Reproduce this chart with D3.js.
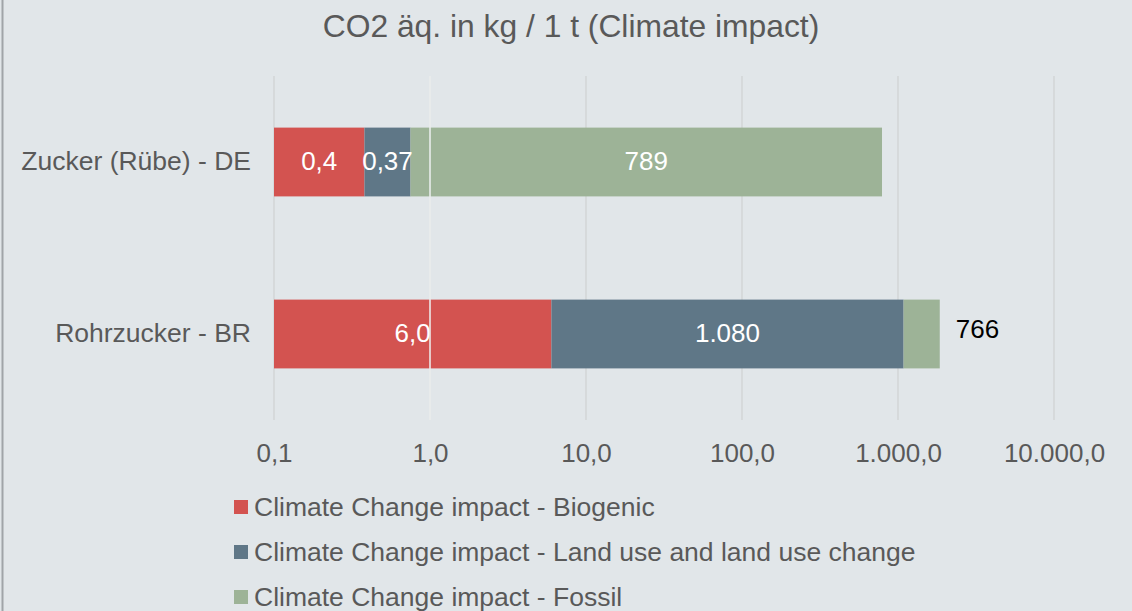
<!DOCTYPE html>
<html><head><meta charset="utf-8">
<script src="https://cdn.jsdelivr.net/npm/d3@7"></script>
<style>html,body{margin:0;padding:0;background:#e1e6e9;}svg{display:block;font-family:"Liberation Sans",Arial,sans-serif;}</style>
</head><body>
<script>
const categories = ["Zucker (Rübe) - DE", "Rohrzucker - BR"];
const seriesNames = ["Climate Change impact - Biogenic", "Climate Change impact - Land use and land use change", "Climate Change impact - Fossil"];
const biogenic = [0.38, 6.0];
const landUse = [0.37, 1080];
const fossil = [789, 766];
const biogenicLabels = ["0,4", "6,0"];
const landUseLabels = ["0,37", "1.080"];
const fossilLabels = ["789", "766"];
const tickValues = [0.1, 1, 10, 100, 1000, 10000];
const tickLabels = ["0,1", "1,0", "10,0", "100,0", "1.000,0", "10.000,0"];
const colors = ["#d35350", "#5f7787", "#9db397"];
const title = "CO2 äq. in kg / 1 t (Climate impact)";

const W = 1132, H = 611;
const svg = d3.select("body").append("svg").attr("width", W).attr("height", H);
svg.append("rect").attr("width", W).attr("height", H).attr("fill", "#e1e6e9");
svg.append("line").attr("x1", 2.5).attr("x2", 2.5).attr("y1", 0).attr("y2", H).attr("stroke", "#a0a4a8").attr("stroke-width", 2);

const x = d3.scaleLog().domain([0.1, 10000]).range([274, 1054]);
const y = d3.scaleBand().domain(categories).range([76, 420]).paddingInner(0.6).paddingOuter(0.3);

svg.append("text").attr("x", 571).attr("y", 37).attr("text-anchor", "middle")
  .attr("font-size", 31.8).attr("fill", "#595959").text(title);

// gridlines
svg.append("g").selectAll("line").data(tickValues).join("line")
  .attr("x1", d => x(d)).attr("x2", d => x(d)).attr("y1", 76).attr("y2", 420)
  .attr("stroke", "#d5d8da").attr("stroke-width", 1.8);

const series = [biogenic, landUse, fossil];
const labels = [biogenicLabels, landUseLabels, fossilLabels];
categories.forEach((c, i) => {
  let cum = 0.1;
  const segs = [];
  series.forEach((s, k) => {
    const x0 = k === 0 ? 0.1 : cum;
    const x1 = (k === 0 ? 0 : cum) + s[i];
    segs.push([x0, x1]);
    cum = x1;
  });
  segs.forEach(([a, b], k) => {
    svg.append("rect").attr("x", x(a)).attr("y", y(c)).attr("width", x(b) - x(a))
      .attr("height", y.bandwidth()).attr("fill", colors[k]);
  });
  segs.forEach(([a, b], k) => {
    const w = x(b) - x(a);
    const cx = (x(a) + x(b)) / 2;
    const outside = w < 50 && k === 2;
    svg.append("text")
      .attr("x", outside ? x(b) + 16 : cx)
      .attr("y", y(c) + y.bandwidth() / 2 + (outside ? 4 : 8))
      .attr("text-anchor", outside ? "start" : "middle")
      .attr("font-size", 26).attr("fill", outside ? "#000" : "#fff")
      .text(labels[k][i]);
  });
});
svg.append("line").attr("x1", x(1)).attr("x2", x(1)).attr("y1", 76).attr("y2", 420)
  .attr("stroke", "#eef0f1").attr("stroke-width", 1.5);

// category labels
svg.append("g").selectAll("text").data(categories).join("text")
  .attr("x", 251).attr("y", d => y(d) + y.bandwidth() / 2 + 8)
  .attr("text-anchor", "end").attr("font-size", 26.5).attr("fill", "#595959").text(d => d);

// x axis labels
const xAxis = d3.axisBottom(x).tickValues(tickValues).tickFormat((d, i) => tickLabels[i]).tickSize(0).tickPadding(0);
const gx = svg.append("g").attr("transform", "translate(0,462)").call(xAxis);
gx.select(".domain").remove();
gx.selectAll("text").attr("dy", 0).attr("font-size", 26).attr("fill", "#595959").attr("font-family", "Liberation Sans, Arial, sans-serif");

// legend
const lg = svg.append("g").selectAll("g").data(seriesNames).join("g")
  .attr("transform", (d, i) => `translate(234,${507 + i * 45})`);
lg.append("rect").attr("x", 0).attr("y", -7).attr("width", 14).attr("height", 14).attr("fill", (d, i) => colors[i]);
lg.append("text").attr("x", 20).attr("y", 9).attr("font-size", 26.5).attr("fill", "#595959").text(d => d);
</script>
</body></html>
